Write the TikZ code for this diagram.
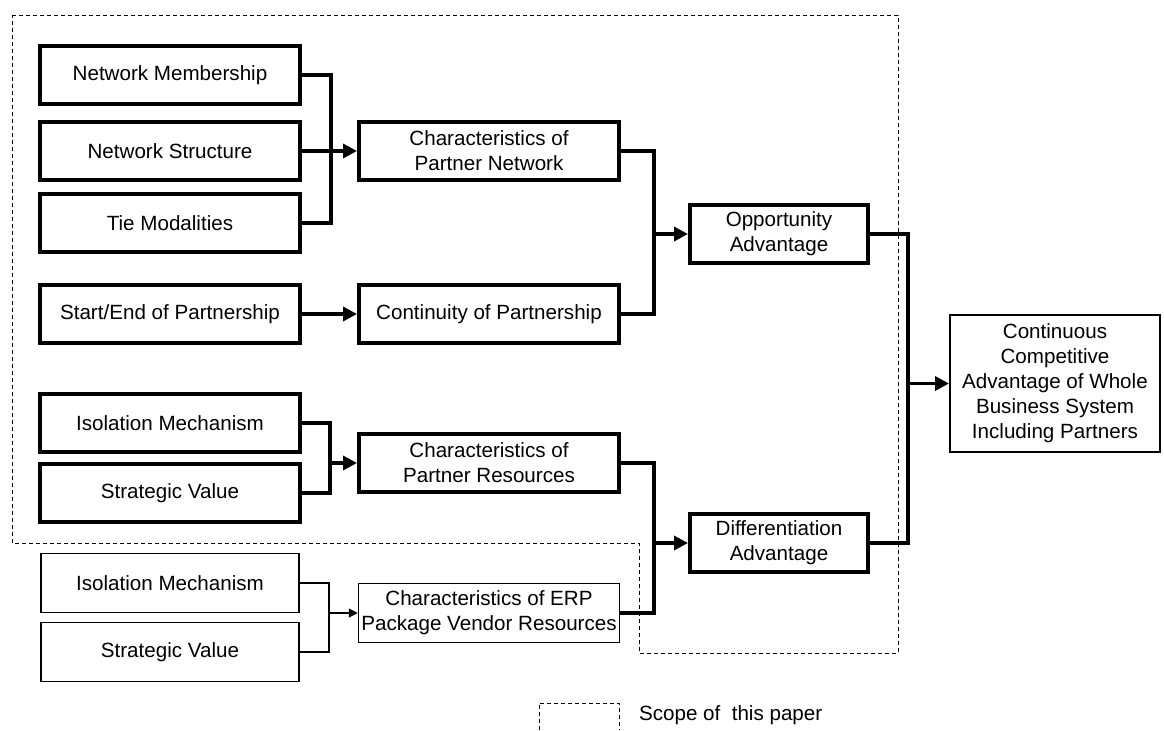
\documentclass[tikz,border=0pt]{standalone}
\usepackage{fontspec}
\setmainfont{Liberation Sans}
\usetikzlibrary{arrows.meta}
\tikzstyle{heavy} = [draw, line width=2pt, align=center, minimum width=130pt, minimum height=29pt, inner sep=1pt]
\tikzstyle{light} = [draw, line width=0.75pt, align=center, minimum width=129pt, minimum height=29.5pt, inner sep=1pt]
\tikzstyle{bus} = [line width=1.7pt, line join=miter]
\tikzstyle{feed} = [line width=1.7pt, -{Triangle[length=7pt,width=7pt]}]
\tikzstyle{thinbus} = [line width=0.6pt]
\tikzstyle{thinfeed} = [line width=0.6pt, -{Triangle[length=4.5pt,width=4.5pt]}]
\tikzstyle{paperscope} = [line width=0.5pt, dash pattern=on 2pt off 1.5pt]

\begin{document}
\begin{tikzpicture}[x=0.5pt, y=-0.5pt, font=\fontsize{10.3}{12.5}\selectfont]
  \useasboundingbox (0,0) rectangle (1164,730);
  \draw[paperscope] (12,15) -- (898,15) -- (898,653) -- (639,653) -- (639,543) -- (12,543) -- cycle;

  \node [heavy] (nm) at (170,75) {Network Membership};
  \node [heavy] (ns) at (170,151) {Network Structure};
  \node [heavy] (tm) at (170,223) {Tie Modalities};
  \node [heavy] (se) at (170,314) {Start/End of Partnership};
  \node [heavy] (im) at (170,423) {Isolation Mechanism};
  \node [heavy] (sv) at (170,493) {Strategic Value};
  \node [light] (ime) at (170,583) {Isolation Mechanism};
  \node [light] (sve) at (170,652) {Strategic Value};

  \node [heavy] (cpn) at (489,151) {Characteristics of\\ Partner Network};
  \node [heavy] (cop) at (489,314) {Continuity of Partnership};
  \node [heavy] (cpr) at (489,463) {Characteristics of\\ Partner Resources};
  \node [light, minimum width=130.5pt] (erp) at (489,613) {Characteristics of ERP\\ Package Vendor Resources};

  \node [heavy, minimum width=89pt] (opp) at (779,234) {Opportunity\\ Advantage};
  \node [heavy, minimum width=89pt] (dif) at (779,543) {Differentiation\\ Advantage};

  \node [draw, line width=1pt, align=center, minimum width=105pt, minimum height=68.5pt] (cca) at (1055,383.5)
    {Continuous\\ Competitive\\ Advantage of Whole\\ Business System\\ Including Partners};

  \coordinate (b1) at (331,151);
  \coordinate (b2) at (654,234);
  \coordinate (b3) at (330,463);
  \coordinate (b4) at (329,613);
  \coordinate (b5) at (654,543);
  \coordinate (b6) at (908,383.5);

  \draw[bus] (nm.east) -| (b1) |- (tm.east);
  \draw[feed] (ns.east) -- (cpn.west);
  \draw[feed] (se.east) -- (cop.west);
  \draw[bus] (im.east) -| (b3) |- (sv.east);
  \draw[feed] (b3) -- (cpr.west);
  \draw[thinbus] (ime.east) -| (b4) |- (sve.east);
  \draw[thinfeed] (b4) -- (erp.west);

  \draw[bus] (cpn.east) -| (b2) |- (cop.east);
  \draw[feed] (b2) -- (opp.west);
  \draw[bus] (cpr.east) -| (b5) |- (erp.east);
  \draw[feed] (b5) -- (dif.west);

  \draw[bus] (opp.east) -| (b6) |- (dif.east);
  \draw[feed] (b6) -- (cca.west);

  \draw[paperscope] (539,730) -- (539,703) -- (619,703) -- (619,730);
  \node [anchor=base west] (key) at (632,720) {Scope of~ this paper};
\end{tikzpicture}
\end{document}
